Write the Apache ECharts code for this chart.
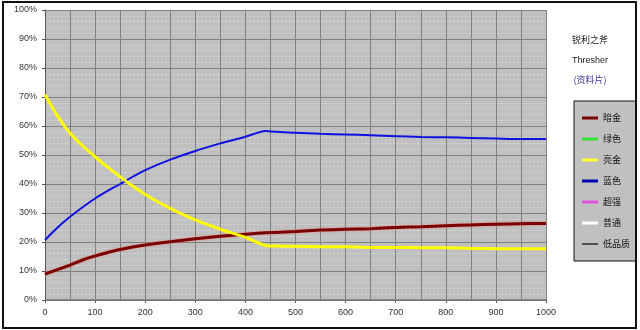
<!DOCTYPE html>
<html><head><meta charset="utf-8">
<script src="https://cdn.jsdelivr.net/npm/echarts@6/dist/echarts.min.js"></script>
<style>html,body{margin:0;padding:0;background:#fff}#c{width:640px;height:330px}</style>
</head><body><div id="c"></div>
<script>
var xs      = [0,25,50,75,100,125,150,175,200,250,300,350,400,440,460,500,550,600,650,700,750,800,850,900,950,1000];
var anjin   = [8.9,10.5,12,13.8,15.2,16.4,17.4,18.3,19,20.1,21.1,22,22.7,23.2,23.3,23.6,24.1,24.4,24.6,25,25.3,25.6,25.9,26.1,26.3,26.4];
var lanse   = [20.7,25,28.7,32,35,37.6,40.0,42.5,44.8,48.4,51.4,54,56.3,58.3,58,57.7,57.3,57.1,56.8,56.5,56.2,56.1,55.9,55.7,55.5,55.5];
var liangjin= [70.8,63.5,57.5,53.2,49.4,45.8,42.5,39.3,36.4,31.6,27.6,24.4,21.6,18.8,18.6,18.5,18.4,18.4,18.1,18.1,18.05,18.05,17.8,17.7,17.7,17.7];
var lvse    = xs.map(function(){return 0;});
var chaoqiang = lvse, putong = lvse, dipinzhi = lvse;
var seriesNames = ['暗金','绿色','亮金','蓝色','超强','普通','低品质'];
var titleLines = ['锐利之斧','Thresher','(资料片)'];

function pairs(ys){return xs.map(function(x,i){return [x,ys[i]];});}
var FONT = 'Liberation Sans, Arial, sans-serif';
var CJK = 'Noto Sans CJK SC, sans-serif';
var chart = echarts.init(document.getElementById('c'));
function ser(name, ys, color, width, z, extra){
  var ls = {color:color,width:width};
  if (extra) for (var k in extra) ls[k]=extra[k];
  return {name:name,type:'line',data:pairs(ys),showSymbol:false,symbol:'none',smooth:0.25,z:z,
    lineStyle:ls,itemStyle:{color:color},animation:false};
}
chart.setOption({
  animation:false,
  grid:{left:45,right:94,top:10,bottom:30,show:true,backgroundColor:'#c0c0c0',borderWidth:0},
  xAxis:{type:'value',min:0,max:1000,interval:100,
    axisLine:{show:true,lineStyle:{color:'#555',width:1}},
    axisTick:{show:true,length:3,lineStyle:{color:'#555'}},
    axisLabel:{color:'#333',fontSize:9,fontFamily:FONT,margin:8,formatter:function(v){return String(v);}},
    splitLine:{show:true,lineStyle:{color:'#808080',width:1}},
    minorTick:{show:false,splitNumber:2},
    minorSplitLine:{show:true,lineStyle:{color:'#808080',width:1}}},
  yAxis:{type:'value',min:0,max:100,interval:10,
    axisLine:{show:true,lineStyle:{color:'#555',width:1}},
    axisTick:{show:true,length:3,lineStyle:{color:'#555'}},
    axisLabel:{color:'#333',fontSize:9,fontFamily:FONT,margin:8,formatter:'{value}%'},
    splitLine:{show:true,lineStyle:{color:'#808080',width:1}},
    minorTick:{show:false,splitNumber:5},
    minorSplitLine:{show:true,lineStyle:{color:'#d6d6d6',width:1,type:[2,2]}}},
  legend:{orient:'vertical',left:574,top:101,
    backgroundColor:'#c0c0c0',borderColor:'#111',borderWidth:1,
    padding:[11,6,11,8],itemGap:9,itemWidth:16,itemHeight:3,icon:'rect',
    textStyle:{fontSize:9,fontFamily:CJK,color:'#111',lineHeight:12},
    data:[
      {name:'暗金',itemStyle:{color:'#800000'}},
      {name:'绿色',itemStyle:{color:'#33e033'}},
      {name:'亮金',itemStyle:{color:'#ffff33'}},
      {name:'蓝色',itemStyle:{color:'#0000b0'}},
      {name:'超强',itemStyle:{color:'#e050e0'}},
      {name:'普通',itemStyle:{color:'#ffffff'}},
      {name:'低品质',itemStyle:{color:'#333333'},icon:'path://M0,0L10,0L10,1L0,1Z'}
    ]},
  graphic:[
    {type:'rect',shape:{x:3,y:2,width:633,height:326},style:{fill:'none',stroke:'#111',lineWidth:2},silent:true,z:100},
    {type:'text',x:590,y:40,style:{text:titleLines[0],fill:'#222',font:'9px '+CJK,align:'center',verticalAlign:'middle'}},
    {type:'text',x:590,y:61,style:{text:titleLines[1],fill:'#222',font:'9px '+FONT,align:'center',verticalAlign:'middle'}},
    {type:'text',x:590,y:80,style:{text:titleLines[2],fill:'#3a3a9a',font:'9px '+CJK,align:'center',verticalAlign:'middle'}}
  ],
  series:[
    ser(seriesNames[6], dipinzhi, '#333333', 1, 2),
    ser(seriesNames[5], putong, '#ffffff', 1, 3),
    ser(seriesNames[4], chaoqiang, '#e050e0', 1, 4),
    ser(seriesNames[1], lvse, '#2e8b2e', 1, 5),
    ser(seriesNames[0], anjin, '#7a0000', 3, 6, {shadowColor:'rgba(255,110,110,0.8)',shadowBlur:2}),
    ser(seriesNames[3], lanse, '#1010e0', 2, 7),
    ser(seriesNames[2], liangjin, '#ffff00', 3, 8)
  ]
});
</script></body></html>
